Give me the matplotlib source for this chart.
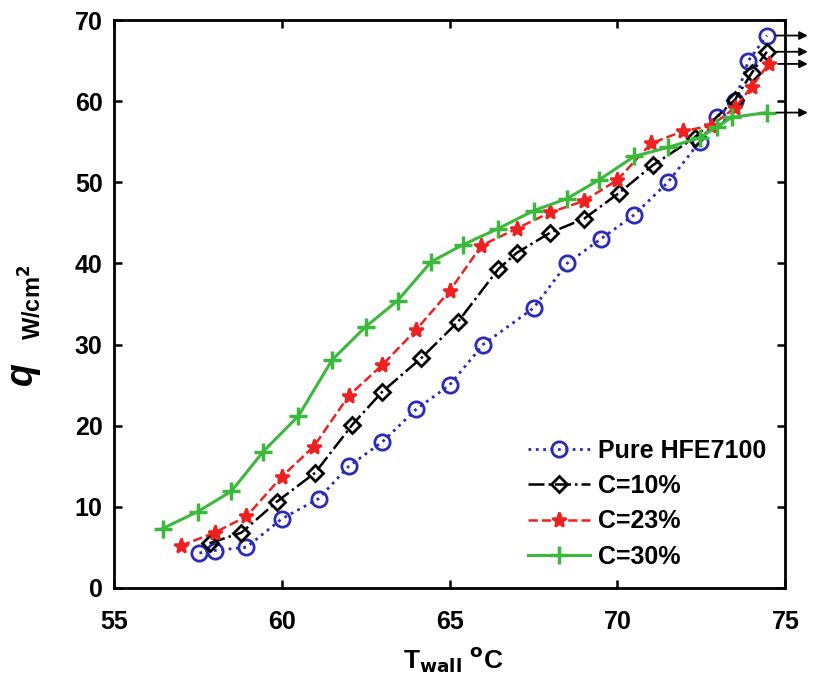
import matplotlib
matplotlib.use("Agg")
import matplotlib.pyplot as plt

plt.rcParams["font.family"] = ["Liberation Sans", "DejaVu Sans"]
plt.rcParams["font.weight"] = "bold"

# Pure HFE7100
t_pure = [57.55, 58.0, 58.95, 60.0, 61.1, 62.0, 63.0, 64.0, 65.0, 66.0, 67.5, 68.5,
          69.5, 70.5, 71.5, 72.45, 72.95, 73.5, 73.9, 74.45]
q_pure = [4.3, 4.6, 5.0, 8.5, 11.0, 15.0, 18.0, 22.0, 25.0, 30.0, 34.5, 40.0,
          43.0, 46.0, 50.0, 55.0, 58.0, 60.0, 65.0, 68.1]

# C = 10%
t_c10 = [57.85, 58.8, 59.85, 61.0, 62.1, 63.0, 64.15, 65.25, 66.45, 67.0, 68.0, 69.0,
         70.05, 71.05, 72.3, 73.5, 74.0, 74.45]
q_c10 = [5.5, 6.8, 10.6, 14.2, 20.1, 24.2, 28.3, 32.8, 39.3, 41.3, 43.8, 45.5,
         48.7, 52.1, 55.5, 60.2, 63.5, 66.1]

# C = 23%
t_c23 = [57.0, 58.0, 58.95, 60.0, 60.95, 62.0, 63.0, 64.0, 65.0, 65.95, 67.0, 68.0,
         69.0, 70.0, 71.0, 71.95, 72.8, 73.5, 74.0, 74.5]
q_c23 = [5.2, 6.8, 8.8, 13.7, 17.4, 23.7, 27.5, 31.8, 36.6, 42.2, 44.3, 46.3,
         47.7, 50.3, 54.8, 56.3, 57.0, 59.2, 61.8, 64.6]

# C = 30%
t_c30 = [56.45, 57.5, 58.5, 59.45, 60.5, 61.5, 62.5, 63.45, 64.45, 65.4, 66.45, 67.5,
         68.5, 69.45, 70.5, 71.5, 72.45, 72.95, 73.4, 74.45]
q_c30 = [7.3, 9.4, 11.9, 16.8, 21.2, 28.1, 32.2, 35.4, 40.2, 42.3, 44.3, 46.5,
         48.0, 50.3, 53.2, 54.3, 55.5, 56.8, 58.0, 58.6]

fig = plt.figure(figsize=(8.13, 6.94), dpi=100)
ax = fig.add_axes([0.140, 0.153, 0.826, 0.818])

ax.plot(t_pure, q_pure, ":", color="#2b2bb8", lw=2, marker="o", ms=11,
        mfc="none", mew=2, label="Pure HFE7100")
ax.plot(t_c10, q_c10, "-.", color="black", lw=1.8, marker="D", ms=8,
        mfc="none", mew=2, label="C=10%")
ax.plot(t_c23, q_c23, "--", color="#ee2020", lw=1.8, marker="*", ms=11,
        mew=1.8, label="C=23%")
ax.plot(t_c30, q_c30, "-", color="#3cb83c", lw=2.2, marker="+", ms=13,
        mew=2.5, label="C=30%")

# arrows pointing out from the last point of each curve
for t, q in [(t_pure, q_pure), (t_c10, q_c10), (t_c23, q_c23), (t_c30, q_c30)]:
    ax.annotate("", xy=(75.75, q[-1]), xytext=(t[-1] + 0.2, q[-1]),
                arrowprops=dict(arrowstyle="-|>", color="black", lw=1.3,
                                mutation_scale=12),
                annotation_clip=False)

ax.set_xlim(55, 75)
ax.set_ylim(0, 70)
ax.set_xticks([55, 60, 65, 70, 75])
ax.set_yticks(range(0, 71, 10))
ax.tick_params(direction="in", top=True, right=True, length=6, width=1.8,
               labelsize=18)
ax.tick_params(axis="x", pad=16)
ax.tick_params(axis="y", pad=8)
for lab in ax.get_xticklabels() + ax.get_yticklabels():
    lab.set_fontweight("bold")
for s in ax.spines.values():
    s.set_linewidth(2)

ax.legend(loc="lower right", bbox_to_anchor=(0.997, 0.003), frameon=False,
          handlelength=2.5, labelspacing=0.45, handletextpad=0.3,
          borderaxespad=0.3, prop={"weight": "bold", "size": 18})

fig.text(0.027, 0.462, "q", rotation=90, fontsize=27, fontweight="bold",
         fontstyle="italic", ha="center", va="center")
fig.text(0.040, 0.565, "W/cm$^\\mathbf{2}$", rotation=90, fontsize=17,
         fontweight="bold", ha="center", va="center")
fig.text(0.557, 0.048, "T$_\\mathbf{wall}$ $^\\mathbf{o}$C", fontsize=19,
         fontweight="bold", ha="center", va="center")

fig.savefig("out.png", dpi=100)
